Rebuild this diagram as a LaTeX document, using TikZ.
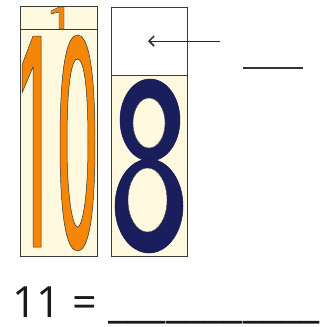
\documentclass[tikz,border=0pt]{standalone}
\usepackage{fontspec}
\setmainfont{Open Sans}
\usetikzlibrary{calc, positioning}
\usetikzlibrary{arrows.meta}

\definecolor{cream}{HTML}{FFFADF}
\definecolor{digitorange}{HTML}{F58608}
\definecolor{digitnavy}{HTML}{1B1E5C}
\definecolor{boxline}{HTML}{3A3A3A}

\tikzset{
  cardbox/.style={draw=boxline, line width=0.9pt},
  orangedigit/.style={fill=digitorange, draw=black!80, line width=0.5pt},
  navydigit/.style={fill=digitnavy, draw=digitnavy!80!black, line width=0.5pt},
  hole/.style={fill=cream, draw=black!70, line width=0.4pt},
}

\begin{document}
\begin{tikzpicture}[x=1pt,y=-1pt]
\useasboundingbox (0,0) rectangle (333,327);

\coordinate (TensNW) at (20,6);
\coordinate (TensSE) at (97,256);
\coordinate (OnesNW) at (111,7);
\coordinate (OnesSE) at (187,256);
\coordinate (ArrowStart) at (220,41);
\coordinate (ArrowTip) at (148,41);
\coordinate (BlankL) at (243,68);
\coordinate (BlankR) at (303,68);

% tens card
\draw[cardbox, fill=cream] (TensNW) rectangle (TensSE);
\draw[cardbox] (20,29) -- (97,29);
% small carried 1
\draw[orangedigit, line width=0.4pt] (51,11) -- (59,7) -- (64,7) -- (64,29) -- (59,29) -- (59,12) -- (51,14) -- cycle;
% big 1
\draw[orangedigit] (33,36) -- (41,36) -- (41,247) -- (33,247) -- (33,67) -- (22,93) -- (22,65) -- cycle;
% big 0
\draw[orangedigit, even odd rule]
  (60,143) .. controls (60,60) and (68,35) .. (77.5,35) .. controls (87,35) and (95,60) .. (95,143)
  .. controls (95,226) and (87,251) .. (77.5,251) .. controls (68,251) and (60,226) .. (60,143) -- cycle
  (67,143) .. controls (67,80) and (72,59) .. (77.5,59) .. controls (83,59) and (88,80) .. (88,143)
  .. controls (88,200) and (82,227) .. (77.5,227) .. controls (73,227) and (67,200) .. (67,143) -- cycle;

% ones card
\draw[cardbox, fill=white] (OnesNW) rectangle (187,75);
\draw[cardbox, fill=cream] (111,75) rectangle (OnesSE);
% big 8
\fill[navydigit] (150,120) ellipse [x radius=30, y radius=41];
\fill[navydigit] (149,206) ellipse [x radius=34, y radius=47];
\draw[hole] (149,123) ellipse [x radius=16, y radius=25];
\draw[hole] (147.5,200) ellipse [x radius=19.5, y radius=32];

% arrow and blank
\draw[-{Straight Barb[length=5pt, width=10pt, line width=1.5pt]}, line width=1pt, black!85] (ArrowStart) -- (ArrowTip);
\draw[line width=1.4pt, black!80] (BlankL) -- (BlankR);

% equation
\node[anchor=base west, inner sep=0pt, font=\fontsize{43}{50}\selectfont, text=black!90]
  (Equation) at (12,317) {11 = \_\_\_\_\_\_\_\_\_\_\_};
\end{tikzpicture}
\end{document}
